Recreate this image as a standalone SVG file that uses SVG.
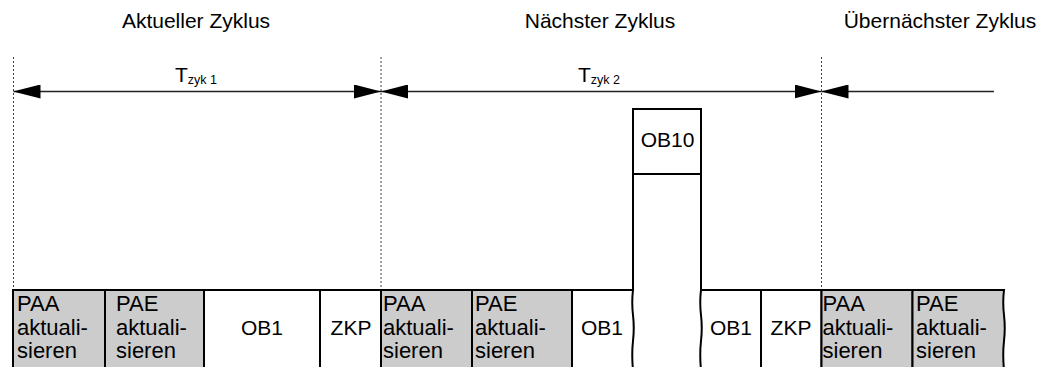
<svg xmlns="http://www.w3.org/2000/svg" width="1045" height="367" viewBox="0 0 1045 367">
<style>
text{font-family:"Liberation Sans",Arial,sans-serif;font-size:21px;fill:#000}
.st{font-size:22px}
.sub{font-size:12.5px}
.c{text-anchor:middle}
.box{stroke:#000;stroke-width:2;fill:#fff}
.g{fill:#cccccc}
.edge{stroke:#000;stroke-width:2;fill:none}
.dash{stroke:#444;stroke-width:1;stroke-dasharray:2,2;fill:none}
.arr{stroke:#222;stroke-width:1.5;fill:none}
</style>
<defs>
<marker id="ah" viewBox="0 0 27 14" refX="27" refY="7" markerWidth="27" markerHeight="14" markerUnits="userSpaceOnUse" orient="auto-start-reverse">
<path d="M0,0 L27,7 L0,14 z" fill="#000"/>
</marker>
</defs>
<g id="titles">
<text class="c" x="196" y="28">Aktueller Zyklus</text>
<text class="c" x="600" y="28">Nächster Zyklus</text>
<text class="c" x="940" y="28">Übernächster Zyklus</text>
</g>
<g id="dividers">
<line class="dash" x1="13.5" y1="57" x2="13.5" y2="290"/>
<line class="dash" x1="381" y1="57" x2="381" y2="290"/>
<line class="dash" x1="821.5" y1="57" x2="821.5" y2="290"/>
</g>
<g id="connectors">
<line class="arr" x1="13.5" y1="91.5" x2="381" y2="91.5" marker-start="url(#ah)" marker-end="url(#ah)"/>
<line class="arr" x1="381" y1="91.5" x2="821.5" y2="91.5" marker-start="url(#ah)" marker-end="url(#ah)"/>
<line class="arr" x1="821.5" y1="91.5" x2="994" y2="91.5" marker-start="url(#ah)"/>
</g>
<g id="labels">
<text x="175" y="82">T<tspan class="sub" dy="2">zyk 1</tspan></text>
<text x="578" y="82">T<tspan class="sub" dy="2">zyk 2</tspan></text>
</g>
<g id="ob10">
<rect class="box" x="633" y="109" width="68" height="65"/>
<text class="c" x="667.5" y="147">OB10</text>
<line class="edge" x1="633" y1="174" x2="633" y2="291"/>
<line class="edge" x1="701" y1="174" x2="701" y2="291"/>
</g>
<g id="c1-paa">
<rect class="box g" x="13" y="290" width="92" height="80"/>
<text class="st" x="17" y="311">PAA</text><text class="st" x="17" y="335">aktuali-</text><text class="st" x="17" y="358">sieren</text>
</g>
<g id="c1-pae">
<rect class="box g" x="105" y="290" width="99" height="80"/>
<text class="st" x="116" y="311">PAE</text><text class="st" x="116" y="335">aktuali-</text><text class="st" x="116" y="358">sieren</text>
</g>
<g id="c1-ob1">
<rect class="box" x="204" y="290" width="116" height="80"/>
<text class="c" x="262" y="335">OB1</text>
</g>
<g id="c1-zkp">
<rect class="box" x="320" y="290" width="61" height="80"/>
<text class="c" x="351" y="335">ZKP</text>
</g>
<g id="c2-paa">
<rect class="box g" x="381" y="290" width="91" height="80"/>
<text class="st" x="383" y="311">PAA</text><text class="st" x="383" y="335">aktuali-</text><text class="st" x="383" y="358">sieren</text>
</g>
<g id="c2-pae">
<rect class="box g" x="472" y="290" width="100" height="80"/>
<text class="st" x="475" y="311">PAE</text><text class="st" x="475" y="335">aktuali-</text><text class="st" x="475" y="358">sieren</text>
</g>
<g id="c2-ob1a">
<path class="box" d="M572,290 H633 q-1.5,12 0,25 t0,26 t0,29 H572 z"/>
<text class="c" x="602" y="335">OB1</text>
</g>
<g id="c2-ob1b">
<path class="box" d="M761,290 H701 q-1.5,12 0,25 t0,26 t0,29 H761 z"/>
<text class="c" x="731" y="335">OB1</text>
</g>
<g id="c2-zkp">
<rect class="box" x="761" y="290" width="60.5" height="80"/>
<text class="c" x="791" y="335">ZKP</text>
</g>
<g id="c3-paa">
<rect class="box g" x="821.5" y="290" width="91" height="80"/>
<text class="st" x="822.5" y="311">PAA</text><text class="st" x="822.5" y="335">aktuali-</text><text class="st" x="822.5" y="358">sieren</text>
</g>
<g id="c3-pae">
<path class="box g" d="M912.5,290 H1004 q-1.5,12 0,25 t0,26 t0,29 H912.5 z"/>
<text class="st" x="916" y="311">PAE</text><text class="st" x="916" y="335">aktuali-</text><text class="st" x="916" y="358">sieren</text>
</g>
</svg>
